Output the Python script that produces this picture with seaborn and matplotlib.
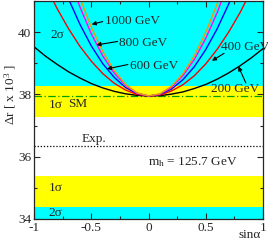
import numpy as np
import pandas as pd
import matplotlib
matplotlib.use("Agg")
import matplotlib.pyplot as plt
import seaborn as sns

# ---- data ----
sin_alpha = [-1.0, -0.9, -0.8, -0.7, -0.6, -0.5, -0.4, -0.3, -0.2, -0.1, 0.0,
             0.1, 0.2, 0.3, 0.4, 0.5, 0.6, 0.7, 0.8, 0.9, 1.0]
dr_200 = [39.53, 39.23, 38.97, 38.73, 38.53, 38.35, 38.21, 38.10, 38.02, 37.97, 37.95,
          37.96, 38.01, 38.08, 38.19, 38.32, 38.49, 38.69, 38.92, 39.18, 39.47]
dr_400 = [42.34, 41.51, 40.77, 40.12, 39.55, 39.07, 38.67, 38.36, 38.14, 38.00, 37.95,
          37.98, 38.11, 38.31, 38.60, 38.98, 39.45, 40.00, 40.63, 41.36, 42.16]
dr_600 = [44.27, 43.08, 42.02, 41.08, 40.26, 39.56, 38.99, 38.55, 38.22, 38.03, 37.95,
          38.00, 38.17, 38.47, 38.89, 39.44, 40.11, 40.90, 41.82, 42.86, 44.03]
dr_800 = [45.80, 44.33, 43.00, 41.83, 40.82, 39.95, 39.24, 38.69, 38.29, 38.04, 37.95,
          38.01, 38.23, 38.60, 39.12, 39.80, 40.63, 41.62, 42.76, 44.05, 45.50]
dr_1000 = [46.62, 44.99, 43.53, 42.23, 41.11, 40.16, 39.38, 38.77, 38.32, 38.05, 37.95,
           38.02, 38.26, 38.66, 39.24, 39.99, 40.91, 42.00, 43.25, 44.68, 46.28]
mass_labels = ["200 GeV", "400 GeV", "600 GeV", "800 GeV", "1000 GeV"]
dr_exp = 36.33
sigma1_upper = (37.29, 38.26)
sigma1_lower = (34.39, 35.38)
dr_sm = 37.95
x_ticks = [-1, -0.5, 0, 0.5, 1]
x_ticklabels = ["-1", "-0.5", "0", "0.5", "1"]
y_ticks = [34, 36, 38, 40]

curves = [dr_200, dr_400, dr_600, dr_800, dr_1000]
df = pd.concat([pd.DataFrame({"sin": sin_alpha, "dr": c, "mass": m})
                for c, m in zip(curves, mass_labels)], ignore_index=True)

sns.set_style("ticks")
plt.rcParams["font.family"] = ["Liberation Serif", "DejaVu Serif"]
plt.rcParams["mathtext.fontset"] = "custom"
plt.rcParams["mathtext.rm"] = "Liberation Serif"
plt.rcParams["mathtext.it"] = "Liberation Serif:italic"

fig = plt.figure(figsize=(2.68, 2.42), dpi=100)
ax = fig.add_axes([34/268, 1 - 219/242, 229/268, 218/242])

cyan = "#00ffff"
yellow = "#ffff00"
ax.axhspan(34, 41, color=cyan, lw=0, zorder=0)
ax.axhspan(sigma1_upper[0], sigma1_upper[1], color=yellow, lw=0, zorder=0.1)
ax.axhspan(sigma1_lower[0], sigma1_lower[1], color=yellow, lw=0, zorder=0.1)
ax.axhspan(sigma1_lower[1], sigma1_upper[0], color="white", lw=0, zorder=0.1)

ax.axhline(dr_exp, color="black", ls=(0, (1, 1.5)), lw=0.9, zorder=1)
ax.axhline(dr_sm, color="#00a000", ls=(0, (6, 2, 1, 2)), lw=0.9, zorder=1)

palette = {"200 GeV": "black", "400 GeV": "#ff0000", "600 GeV": "#0000ff",
           "800 GeV": "#ff00ff", "1000 GeV": "#e8a000"}
sns.lineplot(data=df, x="sin", y="dr", hue="mass", palette=palette,
             legend=False, lw=1.0, ax=ax, sort=False, zorder=2)

ax.set_xlim(-1, 1)
ax.set_ylim(34, 41)
ax.set_xticks(x_ticks)
ax.set_xticklabels(x_ticklabels)
ax.set_xticks(np.arange(-1, 1.01, 0.25), minor=True)
ax.set_yticks(y_ticks)
ax.set_yticks([35, 37, 39, 41], minor=True)
ax.tick_params(which="both", direction="in", top=True, right=True,
               labelsize=9.5, width=0.8, pad=2)
ax.tick_params(which="major", length=4.5)
ax.tick_params(which="minor", length=2.5)
for s in ax.spines.values():
    s.set_linewidth(0.9)
ax.set_xlabel("")
ax.set_ylabel("Δr [ x 10$^3$ ]", fontsize=9.5, labelpad=1)
ax.yaxis.set_label_coords(-0.072, 0.57)
fig.text(261/268, 1 - 235/242, "sinα", ha="right", va="center", fontsize=9.5)

fs = 9.5
ax.text(-0.86, 39.9, "2σ", fontsize=fs, va="center")
ax.text(-0.87, 37.65, "1σ", fontsize=fs, va="center")
ax.text(-0.70, 37.7, "SM", fontsize=fs, va="center")
ax.text(-0.58, 36.57, "Exp.", fontsize=fs, va="center")
ax.text(0.0, 35.84, r"m$_\mathrm{h}$ = 125.7 GeV", fontsize=fs, va="center")
ax.text(-0.87, 34.98, "1σ", fontsize=fs, va="center")
ax.text(-0.87, 34.19, "2σ", fontsize=fs, va="center")

arrow = dict(arrowstyle="-|>", color="black", lw=0.8, mutation_scale=6,
             shrinkA=0, shrinkB=0)
labels = [("1000 GeV", (-0.38, 40.36), (-0.40, 40.34), (-0.496, 40.25)),
          ("800 GeV", (-0.26, 39.66), (-0.27, 39.70), (-0.455, 39.59)),
          ("600 GeV", (-0.16, 38.92), (-0.18, 38.96), (-0.363, 38.82)),
          ("400 GeV", (0.632, 39.52), (0.66, 39.32), (0.554, 39.08)),
          ("200 GeV", (0.55, 38.19), (0.85, 38.37), (0.785, 38.90))]
for txt, tpos, tail, head in labels:
    ax.text(tpos[0], tpos[1], txt, fontsize=fs, va="center", ha="left", zorder=4)
    ax.annotate("", xy=head, xytext=tail, arrowprops=arrow, zorder=4)

fig.savefig("out.png", dpi=100)
